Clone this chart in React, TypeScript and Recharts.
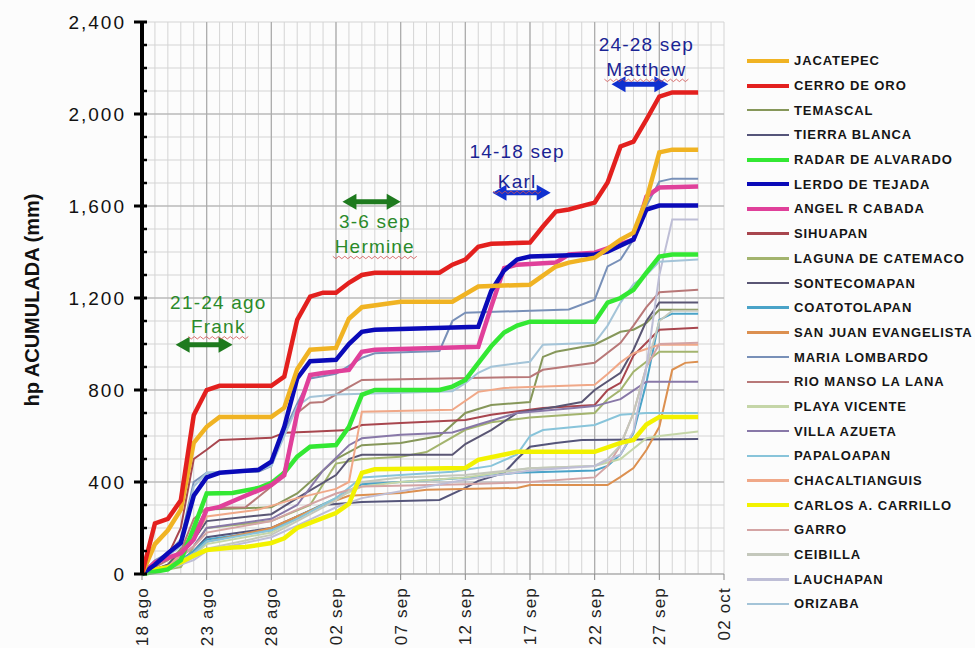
import React from "react";
import {
  CartesianGrid,
  Line,
  LineChart,
  ReferenceDot,
  ReferenceLine,
  XAxis,
  YAxis,
} from "recharts";

// day index 0 = 18 ago; each pair is [day, accumulated mm]
type Pt = [number, number];

const dateLabels = ["18 ago", "23 ago", "28 ago", "02 sep", "07 sep", "12 sep", "17 sep", "22 sep", "27 sep", "02 oct"];
const dayTicks = Array.from({ length: 46 }, (_, i) => i);
const mmTicks = Array.from({ length: 25 }, (_, i) => i * 100);
const majorDays = [5, 10, 15, 20, 25, 30, 35, 40];
const majorMm = [400, 800, 1200, 1600, 2000];

const jacatepec: Pt[] = [[0, 0], [1, 130], [2, 190], [3, 280], [4, 570], [5, 640], [6, 683], [10, 683], [11, 723], [12, 890], [13, 975], [15, 983], [16, 1110], [17, 1160], [20, 1184], [24, 1184], [26, 1250], [30, 1258], [32, 1337], [33, 1354], [35, 1375], [37, 1454], [38, 1484], [39, 1628], [40, 1833], [41, 1845], [43, 1845]];
const cerroDeOro: Pt[] = [[0, 0], [1, 220], [2, 240], [3, 320], [4, 690], [5, 800], [6, 818], [10, 818], [11, 858], [12, 1105], [13, 1206], [14, 1223], [15, 1223], [16, 1266], [17, 1300], [18, 1310], [23, 1310], [24, 1345], [25, 1367], [26, 1423], [27, 1436], [30, 1441], [31, 1511], [32, 1576], [33, 1585], [35, 1615], [36, 1702], [37, 1859], [38, 1880], [39, 1976], [40, 2076], [41, 2094], [43, 2094]];
const temascal: Pt[] = [[0, 0], [2, 40], [4, 180], [5, 280], [10, 290], [12, 350], [15, 500], [17, 560], [20, 570], [23, 600], [25, 700], [27, 735], [30, 748], [31, 944], [32, 966], [35, 997], [37, 1053], [38, 1062], [39, 1092], [40, 1149], [43, 1149]];
const tierraBlanca: Pt[] = [[0, 0], [2, 20], [4, 100], [5, 160], [10, 200], [12, 250], [14, 300], [17, 313], [23, 322], [25, 374], [26, 405], [28, 440], [29, 500], [30, 553], [32, 570], [34, 583], [43, 587]];
const radarAlvarado: Pt[] = [[0, 0], [1, 10], [2, 20], [3, 60], [4, 200], [5, 350], [7, 352], [9, 374], [10, 396], [11, 440], [12, 510], [13, 553], [15, 561], [16, 640], [17, 779], [18, 800], [23, 800], [24, 815], [25, 844], [27, 990], [28, 1050], [29, 1080], [30, 1097], [35, 1097], [36, 1180], [37, 1200], [38, 1236], [39, 1310], [40, 1380], [41, 1389], [43, 1389]];
const lerdoTejada: Pt[] = [[0, 0], [1, 40], [2, 90], [3, 135], [4, 340], [5, 420], [6, 440], [9, 453], [10, 488], [11, 640], [12, 850], [13, 925], [15, 931], [16, 1000], [17, 1053], [18, 1062], [26, 1075], [27, 1230], [28, 1320], [29, 1367], [30, 1380], [35, 1389], [36, 1402], [38, 1454], [39, 1584], [40, 1602], [43, 1602]];
const angelCabada: Pt[] = [[0, 0], [1, 50], [2, 70], [3, 90], [4, 150], [5, 280], [6, 292], [8, 340], [10, 387], [11, 430], [12, 700], [13, 865], [14, 874], [16, 887], [17, 966], [18, 975], [26, 988], [27, 1162], [28, 1330], [29, 1345], [32, 1354], [33, 1389], [35, 1397], [38, 1454], [39, 1641], [40, 1680], [43, 1685]];
const sihuapan: Pt[] = [[0, 0], [1, 40], [2, 80], [3, 200], [4, 500], [5, 540], [6, 583], [10, 592], [11, 614], [13, 618], [16, 626], [17, 648], [20, 657], [25, 670], [27, 692], [31, 722], [35, 735], [36, 800], [37, 831], [38, 950], [40, 1062], [43, 1071]];
const lagunaCatemaco: Pt[] = [[0, 0], [3, 30], [4, 120], [5, 200], [10, 230], [13, 300], [15, 480], [17, 500], [20, 510], [22, 530], [25, 627], [27, 660], [30, 680], [35, 700], [36, 760], [37, 800], [38, 880], [40, 966], [43, 966]];
const sontecomapan: Pt[] = [[0, 0], [2, 40], [4, 150], [5, 230], [10, 260], [12, 330], [15, 430], [16, 500], [17, 518], [24, 518], [25, 565], [27, 626], [29, 700], [32, 727], [34, 748], [35, 800], [37, 875], [38, 975], [39, 1100], [40, 1180], [43, 1180]];
const coatotolapan: Pt[] = [[0, 0], [2, 20], [4, 100], [5, 150], [10, 190], [12, 250], [15, 330], [17, 390], [20, 400], [26, 422], [29, 440], [35, 450], [36, 470], [37, 520], [38, 614], [39, 831], [40, 1105], [41, 1132], [43, 1132]];
const sanJuan: Pt[] = [[0, 0], [2, 20], [4, 90], [5, 140], [10, 200], [12, 250], [14, 300], [16, 340], [20, 352], [22, 366], [29, 374], [30, 387], [36, 387], [37, 422], [38, 461], [39, 539], [40, 640], [41, 888], [42, 918], [43, 923]];
const mariaLombardo: Pt[] = [[0, 0], [1, 60], [2, 90], [3, 150], [4, 400], [5, 440], [9, 445], [10, 470], [11, 620], [12, 740], [13, 850], [15, 870], [17, 940], [18, 960], [23, 970], [24, 1100], [25, 1136], [33, 1150], [35, 1193], [36, 1337], [37, 1367], [38, 1454], [39, 1600], [40, 1706], [41, 1719], [43, 1719]];
const rioManso: Pt[] = [[0, 0], [1, 30], [2, 60], [3, 100], [4, 240], [5, 287], [8, 290], [10, 380], [11, 450], [12, 700], [13, 745], [14, 748], [16, 813], [17, 844], [30, 857], [31, 888], [35, 918], [37, 1005], [38, 1080], [39, 1160], [40, 1225], [43, 1236]];
const playaVicente: Pt[] = [[0, 0], [2, 20], [4, 80], [5, 130], [10, 180], [12, 240], [15, 330], [17, 380], [20, 400], [25, 420], [30, 460], [35, 470], [37, 500], [39, 590], [40, 600], [43, 620]];
const villaAzueta: Pt[] = [[0, 0], [2, 30], [4, 120], [5, 200], [10, 240], [12, 300], [14, 450], [16, 560], [17, 590], [20, 605], [24, 615], [26, 650], [29, 700], [33, 720], [35, 730], [37, 760], [39, 836], [43, 836]];
const papaloapan: Pt[] = [[0, 0], [2, 25], [4, 90], [5, 140], [10, 190], [12, 240], [15, 330], [17, 420], [20, 430], [24, 445], [27, 470], [29, 520], [30, 600], [31, 626], [35, 648], [37, 692], [39, 700], [43, 700]];
const chacaltianguis: Pt[] = [[0, 0], [2, 30], [4, 150], [5, 250], [9, 280], [12, 330], [15, 370], [16, 400], [17, 705], [24, 714], [26, 792], [28, 809], [35, 823], [36, 870], [37, 920], [38, 960], [40, 997], [43, 997]];
const carlosCarrillo: Pt[] = [[0, 0], [1, 20], [2, 30], [3, 50], [4, 80], [5, 104], [7, 115], [8, 117], [10, 135], [11, 155], [12, 200], [13, 222], [15, 265], [16, 305], [17, 440], [18, 455], [25, 461], [26, 496], [29, 531], [35, 531], [37, 570], [38, 583], [39, 650], [40, 683], [43, 683]];
const garro: Pt[] = [[0, 0], [2, 30], [4, 120], [5, 180], [10, 230], [12, 280], [15, 350], [17, 380], [25, 390], [30, 400], [35, 420], [36, 470], [37, 560], [38, 700], [39, 900], [40, 1000], [43, 1005]];
const ceibilla: Pt[] = [[0, 0], [2, 20], [4, 70], [5, 110], [10, 170], [12, 230], [15, 320], [17, 400], [20, 420], [25, 430], [30, 460], [35, 470], [36, 500], [37, 560], [38, 700], [39, 900], [40, 1100], [41, 1145], [43, 1145]];
const lauchapan: Pt[] = [[0, 0], [2, 20], [4, 60], [5, 100], [10, 160], [12, 210], [15, 290], [17, 330], [20, 360], [25, 410], [30, 450], [35, 470], [37, 520], [38, 620], [39, 900], [40, 1300], [41, 1541], [43, 1541]];
const orizaba: Pt[] = [[0, 0], [1, 50], [2, 80], [3, 120], [4, 380], [5, 440], [9, 450], [10, 470], [11, 600], [12, 730], [13, 770], [15, 780], [20, 788], [24, 795], [25, 830], [26, 875], [27, 901], [30, 923], [31, 997], [35, 1005], [36, 1080], [37, 1180], [38, 1260], [39, 1300], [40, 1358], [43, 1367]];

const series = [
  { name: "JACATEPEC", color: "#F0B323", width: 4, points: jacatepec },
  { name: "CERRO DE ORO", color: "#E3201E", width: 4, points: cerroDeOro },
  { name: "TEMASCAL", color: "#86975A", width: 2, points: temascal },
  { name: "TIERRA BLANCA", color: "#55557A", width: 2, points: tierraBlanca },
  { name: "RADAR DE ALVARADO", color: "#33E833", width: 4, points: radarAlvarado },
  { name: "LERDO DE TEJADA", color: "#0A0AB8", width: 4, points: lerdoTejada },
  { name: "ANGEL R CABADA", color: "#E0409A", width: 4, points: angelCabada },
  { name: "SIHUAPAN", color: "#A8464E", width: 2, points: sihuapan },
  { name: "LAGUNA DE CATEMACO", color: "#A3B46E", width: 2, points: lagunaCatemaco },
  { name: "SONTECOMAPAN", color: "#5A5674", width: 2, points: sontecomapan },
  { name: "COATOTOLAPAN", color: "#4AA3C8", width: 2, points: coatotolapan },
  { name: "SAN JUAN EVANGELISTA", color: "#DC9050", width: 2, points: sanJuan },
  { name: "MARIA LOMBARDO", color: "#7890B8", width: 2, points: mariaLombardo },
  { name: "RIO MANSO LA LANA", color: "#B87878", width: 2, points: rioManso },
  { name: "PLAYA VICENTE", color: "#C5D6A8", width: 2, points: playaVicente },
  { name: "VILLA AZUETA", color: "#8878A8", width: 2, points: villaAzueta },
  { name: "PAPALOAPAN", color: "#88C4DA", width: 2, points: papaloapan },
  { name: "CHACALTIANGUIS", color: "#F0A888", width: 2, points: chacaltianguis },
  { name: "CARLOS A. CARRILLO", color: "#F2F200", width: 4, points: carlosCarrillo },
  { name: "GARRO", color: "#D4A4A4", width: 2, points: garro },
  { name: "CEIBILLA", color: "#C4C8BC", width: 2, points: ceibilla },
  { name: "LAUCHAPAN", color: "#BEBED6", width: 2, points: lauchapan },
  { name: "ORIZABA", color: "#A4C4D8", width: 2, points: orizaba },
];

// storm periods: dates text, storm name, arrow span in days, heights in mm
const storms = [
  { dates: "21-24 ago", name: "Frank", from: 2.6, to: 7.0, arrowMm: 997, datesMm: 1180, nameMm: 1075, mid: 5.9, text: "#2A8A2A", arrow: "#1E7A1E" },
  { dates: "3-6 sep", name: "Hermine", from: 15.5, to: 20.0, arrowMm: 1619, datesMm: 1532, nameMm: 1424, mid: 18.0, text: "#2A8A2A", arrow: "#1E7A1E" },
  { dates: "14-18 sep", name: "Karl", from: 27.1, to: 31.6, arrowMm: 1658, datesMm: 1837, nameMm: 1707, mid: 29.0, text: "#1A2494", arrow: "#1030D0" },
  { dates: "24-28 sep", name: "Matthew", from: 36.3, to: 40.7, arrowMm: 2129, datesMm: 2303, nameMm: 2194, mid: 39.0, text: "#1A2494", arrow: "#1030D0" },
];

const FONT = '"Liberation Sans", Arial, sans-serif';
const thickOrder = ["CARLOS A. CARRILLO", "RADAR DE ALVARADO", "ANGEL R CABADA", "LERDO DE TEJADA", "JACATEPEC", "CERRO DE ORO"];
const drawOrder = [...series.filter((s) => s.width < 4), ...thickOrder.map((n) => series.find((s) => s.name === n)!)];

function XTick({ x, y, payload }: any) {
  const d = payload.value as number;
  if (d % 5 !== 0) return <g />;
  const ty = y + 13;
  return (
    <g>
      <line x1={x} y1={y} x2={x} y2={y + 6} stroke="#888" />
      <text x={x} y={ty} transform={`rotate(-90 ${x} ${ty})`} textAnchor="end" dy="0.35em" fontSize={17} letterSpacing={1.2} fill="#222" fontFamily={FONT}>
        {dateLabels[d / 5]}
      </text>
    </g>
  );
}

function YTick({ x, y, payload }: any) {
  const v = payload.value as number;
  const major = v % 400 === 0;
  return (
    <g>
      <line x1={major ? x - 8 : x} y1={y} x2={x + 5} y2={y} stroke="#000" strokeWidth={major ? 3 : 2.5} />
      {major && (
        <text x={x - 16} y={y} dy="0.35em" textAnchor="end" fontSize={19} letterSpacing={2} fill="#111" fontFamily={FONT}>
          {v.toLocaleString("en-US")}
        </text>
      )}
    </g>
  );
}

function DoubleArrow(color: string) {
  return (p: any) => {
    const { x1, y1, x2 } = p;
    const h = 14;
    const w = 8;
    return (
      <g>
        <line x1={x1 + h - 2} y1={y1} x2={x2 - h + 2} y2={y1} stroke={color} strokeWidth={5} />
        <polygon points={`${x1},${y1} ${x1 + h},${y1 - w} ${x1 + h},${y1 + w}`} fill={color} />
        <polygon points={`${x2},${y1} ${x2 - h},${y1 - w} ${x2 - h},${y1 + w}`} fill={color} />
      </g>
    );
  };
}

function Caption(text: string, color: string, squiggle: boolean) {
  return (p: any) => {
    const { cx, cy } = p;
    const half = text.length * 6;
    let d = "";
    if (squiggle) {
      for (let i = 0; i <= Math.round((half * 2) / 3); i++) {
        d += `${i === 0 ? "M" : "L"}${cx - half + i * 3},${cy + 11 + (i % 2 ? 1.2 : -1.2)} `;
      }
    }
    return (
      <g>
        <text x={cx} y={cy} dy="0.35em" textAnchor="middle" fontSize={19} letterSpacing={1.2} fill={color} fontFamily={FONT}>
          {text}
        </text>
        {squiggle && <path d={d} fill="none" stroke="#d05050" strokeWidth={0.8} />}
      </g>
    );
  };
}

export default function App() {
  return (
    <div style={{ position: "absolute", left: 0, top: 0, width: 975, height: 648, overflow: "hidden", background: "#fcfcfc" }}>
      <LineChart width={975} height={648} margin={{ top: 22, right: 251, bottom: 0, left: 0 }}>
        <CartesianGrid stroke="#d4d4d4" strokeWidth={1} />
        {majorMm.map((v) => (
          <ReferenceLine key={`h${v}`} y={v} stroke="#ababab" strokeWidth={1.2} />
        ))}
        {majorDays.map((d) => (
          <ReferenceLine key={`v${d}`} x={d} stroke="#ababab" strokeWidth={1.2} />
        ))}
        <XAxis
          type="number"
          dataKey="day"
          domain={[0, 45]}
          ticks={dayTicks}
          interval={0}
          height={74}
          tickSize={0}
          tickMargin={0}
          tick={<XTick />}
          axisLine={{ stroke: "#999" }}
          allowDecimals={false}
        />
        <YAxis
          type="number"
          domain={[0, 2400]}
          ticks={mmTicks}
          interval={0}
          width={142}
          tickSize={0}
          tickMargin={0}
          tick={<YTick />}
          axisLine={{ stroke: "#000", strokeWidth: 4 }}
        />
        {drawOrder.map((s) => (
          <Line
            key={s.name}
            name={s.name}
            data={s.points.map(([day, mm]) => ({ day, mm }))}
            dataKey="mm"
            type="linear"
            stroke={s.color}
            strokeWidth={s.width === 4 ? 4.5 : 2}
            dot={false}
            activeDot={false}
            isAnimationActive={false}
          />
        ))}
        {storms.map((s) => (
          <ReferenceLine
            key={`a${s.name}`}
            segment={[{ x: s.from, y: s.arrowMm }, { x: s.to, y: s.arrowMm }]}
            shape={DoubleArrow(s.arrow)}
            ifOverflow="visible"
          />
        ))}
        {storms.map((s) => (
          <ReferenceDot key={`d${s.name}`} x={s.mid} y={s.datesMm} r={0} shape={Caption(s.dates, s.text, false)} ifOverflow="visible" />
        ))}
        {storms.map((s) => (
          <ReferenceDot key={`n${s.name}`} x={s.mid} y={s.nameMm} r={0} shape={Caption(s.name, s.text, true)} ifOverflow="visible" />
        ))}
      </LineChart>
      <div
        style={{
          position: "absolute",
          left: 32,
          top: 300,
          transform: "translate(-50%, -50%) rotate(-90deg)",
          whiteSpace: "nowrap",
          fontFamily: FONT,
          fontWeight: "bold",
          fontSize: 20,
          color: "#111",
        }}
      >
        hp ACUMULADA (mm)
      </div>
      <div style={{ position: "absolute", left: 747, top: 48.5, fontFamily: FONT, fontWeight: "bold", fontSize: 13, color: "#151515" }}>
        {series.map((s) => (
          <div key={s.name} style={{ height: 24.7, display: "flex", alignItems: "center" }}>
            <div style={{ width: 42, height: s.width === 4 ? 4 : 2.5, background: s.color, marginRight: 5, flex: "none" }} />
            <span style={{ letterSpacing: 0.9, whiteSpace: "nowrap" }}>{s.name}</span>
          </div>
        ))}
      </div>
    </div>
  );
}
